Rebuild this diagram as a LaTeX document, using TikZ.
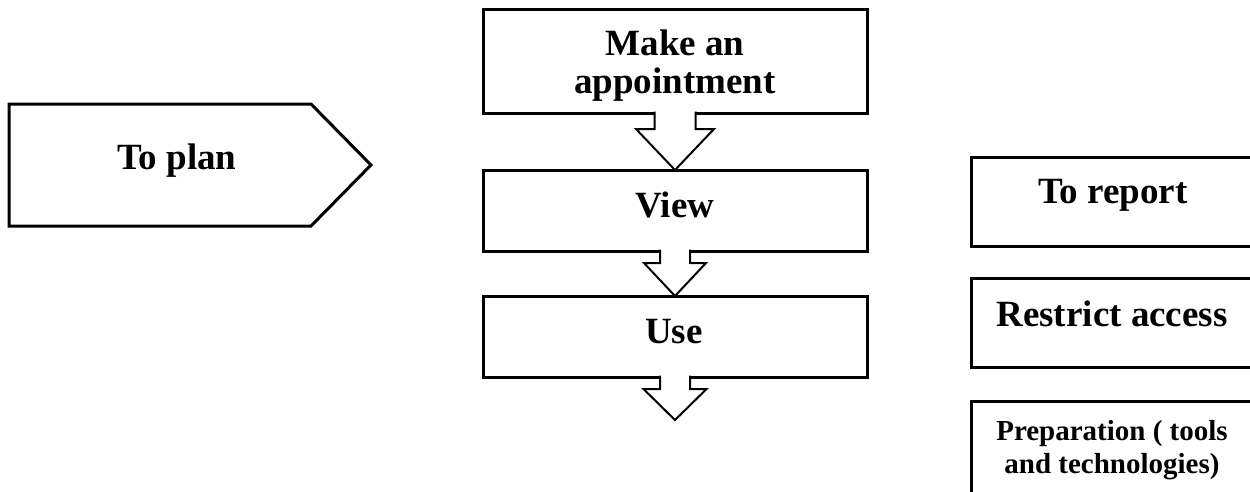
\documentclass[tikz,border=0pt]{standalone}
\usepackage{fontspec}
\setmainfont{Liberation Serif}
\usetikzlibrary{calc}

% hollow block arrow hanging under a box: #1 source box, #2 tip,
% #3 half stem width, #4 half head width, #5 stem length
\newcommand\flowarrow[5]{%
  \path[fill=white] ($(#1.south)+(-#3,-3)$) -- ($(#1.south)+(-#3,#5)$)
    -- ($(#1.south)+(-#4,#5)$) -- (#2) -- ($(#1.south)+(#4,#5)$)
    -- ($(#1.south)+(#3,#5)$) -- ($(#1.south)+(#3,-3)$) -- cycle;
  \draw[blockarrow] ($(#1.south)+(-#3,-1.5)$) -- ($(#1.south)+(-#3,#5)$)
    -- ($(#1.south)+(-#4,#5)$) -- (#2) -- ($(#1.south)+(#4,#5)$)
    -- ($(#1.south)+(#3,#5)$) -- ($(#1.south)+(#3,-1.5)$);
}

\begin{document}
\begin{tikzpicture}[x=1pt,y=-1pt,
  box/.style={draw, line width=3pt, inner sep=0pt, outer sep=0pt},
  lbl/.style={font=\fontsize{37}{38}\selectfont\bfseries, anchor=base, inner sep=0pt},
  smalllbl/.style={font=\fontsize{29}{33}\selectfont\bfseries, anchor=base, inner sep=0pt},
  blockarrow/.style={draw, line width=2pt, line join=miter}]

\clip (0,0) rectangle (1250,491);

% pentagon on the left
\coordinate (pA) at (9,104);
\coordinate (pB) at (311,104);
\coordinate (pC) at (371,165);
\coordinate (pD) at (311,226);
\coordinate (pE) at (9,226);
\draw[line width=3pt, line join=miter] (pA) -- (pB) -- (pC) -- (pD) -- (pE) -- cycle;
\node[lbl] (planlbl) at (177,169) {To plan};

% central column
\node[box, minimum width=384, minimum height=104] (make) at (675,61) {};
\node[box, minimum width=384, minimum height=81] (view) at (675,210.5) {};
\node[box, minimum width=384, minimum height=81] (use) at (675,336.5) {};
\coordinate (useend) at (675,420);

\flowarrow{make}{view.north}{20.5}{39}{16}
\flowarrow{view}{use.north}{15}{31}{12}
\flowarrow{use}{useend}{15}{31.5}{12}

\node[lbl] (makeA) at (675,55) {Make an};
\node[lbl] (makeB) at (675,93) {appointment};
\node[lbl] (viewlbl) at (675,217) {View};
\node[lbl] (uselbl) at (674,343) {Use};

% right column, running off the right edge
\node[box, minimum width=292, minimum height=89] (report) at (1117,201.5) {};
\node[box, minimum width=292, minimum height=89] (restrict) at (1117,322.5) {};
\node[box, minimum width=292, minimum height=93] (prep) at (1117,447.5) {};

\node[lbl] (reportlbl) at (1113,203) {To report};
\node[lbl] (restrictlbl) at (1112,326) {Restrict access};
\node[smalllbl] (prepA) at (1112,440) {Preparation ( tools};
\node[smalllbl] (prepB) at (1112,473) {and technologies)};
\end{tikzpicture}
\end{document}
